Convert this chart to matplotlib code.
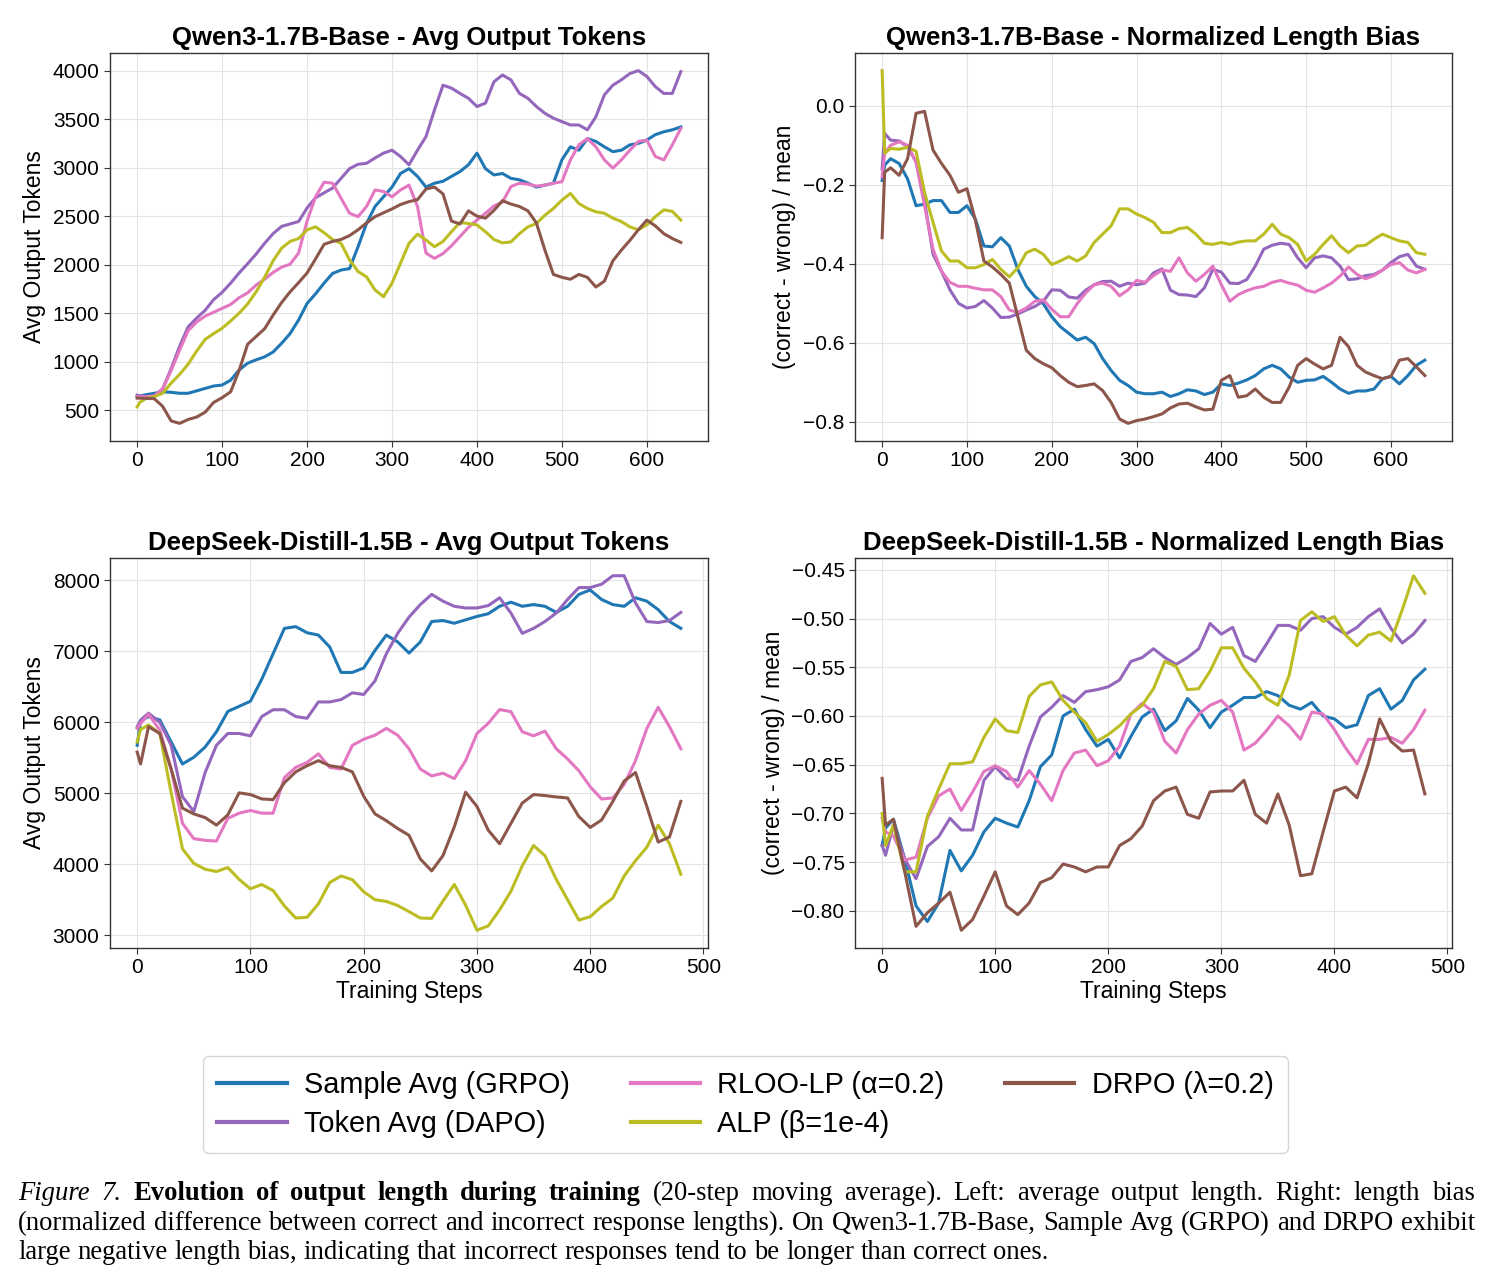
import matplotlib
matplotlib.use("Agg")
import matplotlib.pyplot as plt
from matplotlib.ticker import MultipleLocator, FuncFormatter

plt.rcParams['font.family'] = ['Liberation Sans', 'DejaVu Sans']
plt.rcParams['axes.unicode_minus'] = True

# ---------------- data ----------------
steps_qwen = [0, 3] + list(range(10, 641, 10))
steps_ds = [0, 3] + list(range(10, 481, 10))

series_names = ["Sample Avg (GRPO)", "Token Avg (DAPO)", "RLOO-LP (α=0.2)", "ALP (β=1e-4)", "DRPO (λ=0.2)"]
series_colors = ["#1f77b4", "#9467bd", "#e377c2", "#bcbd22", "#8c564b"]

# Qwen3-1.7B-Base, avg output tokens
qwen_tok_grpo = [640, 645, 660, 675, 690, 685, 675, 675, 700, 725, 750, 760, 810, 915, 985, 1020, 1050, 1100, 1190, 1290,
                 1430, 1600, 1700, 1810, 1910, 1945, 1960, 2185, 2425, 2600, 2700, 2800, 2940, 2990, 2910, 2800, 2840,
                 2860, 2910, 2960, 3030, 3150, 2990, 2925, 2940, 2890, 2875, 2840, 2800, 2820, 2840, 3080, 3215, 3180,
                 3300, 3270, 3215, 3165, 3180, 3235, 3250, 3285, 3340, 3370, 3390, 3420]
qwen_tok_dapo = [655, 650, 640, 650, 720, 930, 1160, 1360, 1450, 1530, 1640, 1715, 1810, 1915, 2010, 2110, 2220, 2320,
                 2395, 2420, 2445, 2585, 2690, 2740, 2790, 2890, 2990, 3035, 3045, 3100, 3150, 3180, 3115, 3030, 3180,
                 3320, 3595, 3850, 3820, 3765, 3715, 3630, 3665, 3885, 3955, 3905, 3765, 3715, 3630, 3560, 3510, 3475,
                 3440, 3440, 3390, 3525, 3750, 3850, 3905, 3970, 4000, 3940, 3835, 3765, 3765, 3990]
qwen_tok_rloo = [640, 640, 640, 645, 720, 910, 1120, 1320, 1410, 1470, 1510, 1550, 1590, 1660, 1710, 1790, 1850, 1920,
                 1975, 2005, 2120, 2450, 2700, 2850, 2840, 2685, 2530, 2495, 2600, 2770, 2755, 2700, 2770, 2820, 2600,
                 2120, 2065, 2115, 2195, 2290, 2385, 2460, 2530, 2605, 2645, 2805, 2840, 2830, 2810, 2820, 2840, 2855,
                 3080, 3235, 3300, 3215, 3080, 2995, 3080, 3180, 3270, 3285, 3115, 3080, 3235, 3405]
qwen_tok_alp = [535, 580, 620, 640, 675, 780, 870, 975, 1110, 1230, 1290, 1345, 1420, 1500, 1595, 1720, 1870, 2040, 2170,
                2240, 2270, 2360, 2390, 2330, 2260, 2220, 2050, 1930, 1875, 1740, 1670, 1810, 2015, 2220, 2315, 2255,
                2185, 2240, 2340, 2435, 2425, 2410, 2340, 2260, 2225, 2235, 2320, 2390, 2425, 2510, 2580, 2665, 2735,
                2630, 2580, 2545, 2530, 2480, 2445, 2390, 2360, 2410, 2495, 2565, 2550, 2460]
qwen_tok_drpo = [625, 625, 622, 620, 540, 390, 365, 405, 430, 480, 580, 630, 690, 910, 1180, 1260, 1340, 1480, 1610,
                 1720, 1815, 1915, 2060, 2210, 2240, 2260, 2300, 2360, 2430, 2495, 2535, 2575, 2620, 2650, 2670, 2780,
                 2800, 2730, 2450, 2420, 2555, 2500, 2480, 2560, 2660, 2625, 2600, 2555, 2430, 2150, 1900, 1870, 1850,
                 1900, 1870, 1770, 1830, 2040, 2150, 2250, 2360, 2460, 2400, 2320, 2270, 2230]

# Qwen3-1.7B-Base, normalized length bias
qwen_bias_grpo = [-0.189, -0.15, -0.134, -0.146, -0.185, -0.253, -0.249, -0.24, -0.24, -0.27, -0.27, -0.253, -0.287,
                  -0.355, -0.357, -0.334, -0.355, -0.414, -0.457, -0.483, -0.501, -0.534, -0.559, -0.576, -0.593,
                  -0.586, -0.602, -0.64, -0.67, -0.695, -0.708, -0.725, -0.729, -0.729, -0.725, -0.736, -0.729, -0.719,
                  -0.722, -0.731, -0.725, -0.704, -0.708, -0.702, -0.694, -0.683, -0.666, -0.657, -0.666, -0.687, -0.70,
                  -0.695, -0.694, -0.685, -0.70, -0.717, -0.728, -0.722, -0.722, -0.717, -0.691, -0.685, -0.704,
                  -0.683, -0.657, -0.644]
qwen_bias_dapo = [-0.16, -0.07, -0.087, -0.089, -0.104, -0.142, -0.24, -0.376, -0.419, -0.466, -0.50, -0.512, -0.508,
                  -0.493, -0.512, -0.536, -0.535, -0.527, -0.517, -0.508, -0.495, -0.466, -0.467, -0.484, -0.487,
                  -0.467, -0.453, -0.445, -0.444, -0.457, -0.449, -0.453, -0.449, -0.423, -0.413, -0.467, -0.478,
                  -0.479, -0.483, -0.461, -0.414, -0.421, -0.449, -0.45, -0.44, -0.406, -0.363, -0.353, -0.348, -0.351,
                  -0.385, -0.41, -0.385, -0.38, -0.385, -0.406, -0.44, -0.438, -0.43, -0.427, -0.416, -0.397, -0.382,
                  -0.376, -0.406, -0.414]
qwen_bias_rloo = [-0.18, -0.12, -0.10, -0.091, -0.10, -0.142, -0.253, -0.363, -0.419, -0.447, -0.457, -0.457, -0.462,
                  -0.466, -0.466, -0.483, -0.517, -0.523, -0.512, -0.495, -0.491, -0.515, -0.534, -0.534, -0.501,
                  -0.474, -0.453, -0.449, -0.457, -0.481, -0.466, -0.442, -0.447, -0.43, -0.416, -0.419, -0.385,
                  -0.423, -0.444, -0.427, -0.406, -0.453, -0.495, -0.478, -0.468, -0.461, -0.457, -0.447, -0.442,
                  -0.449, -0.454, -0.467, -0.472, -0.461, -0.449, -0.431, -0.408, -0.427, -0.438, -0.43, -0.416,
                  -0.402, -0.397, -0.416, -0.423, -0.414]
qwen_bias_alp = [0.089, -0.12, -0.108, -0.11, -0.105, -0.115, -0.219, -0.295, -0.368, -0.393, -0.393, -0.41, -0.41,
                 -0.402, -0.389, -0.414, -0.433, -0.41, -0.372, -0.363, -0.376, -0.402, -0.393, -0.382, -0.393, -0.38,
                 -0.346, -0.325, -0.304, -0.261, -0.261, -0.274, -0.283, -0.295, -0.321, -0.321, -0.311, -0.308,
                 -0.325, -0.348, -0.351, -0.346, -0.351, -0.345, -0.342, -0.342, -0.325, -0.30, -0.325, -0.334,
                 -0.351, -0.393, -0.376, -0.351, -0.329, -0.355, -0.372, -0.355, -0.353, -0.338, -0.325, -0.334,
                 -0.342, -0.346, -0.372, -0.376]
qwen_bias_drpo = [-0.334, -0.168, -0.157, -0.176, -0.134, -0.019, -0.014, -0.112, -0.146, -0.176, -0.219, -0.21, -0.29,
                  -0.393, -0.408, -0.427, -0.449, -0.534, -0.619, -0.64, -0.653, -0.663, -0.683, -0.70, -0.711,
                  -0.708, -0.704, -0.721, -0.751, -0.793, -0.804, -0.797, -0.793, -0.787, -0.78, -0.765, -0.755,
                  -0.753, -0.762, -0.77, -0.768, -0.695, -0.683, -0.738, -0.734, -0.717, -0.738, -0.751, -0.751,
                  -0.712, -0.657, -0.64, -0.654, -0.666, -0.657, -0.586, -0.61, -0.657, -0.674, -0.683, -0.691,
                  -0.685, -0.644, -0.64, -0.661, -0.683]

# DeepSeek-Distill-1.5B, avg output tokens
ds_tok_grpo = [5675, 6020, 6081, 6033, 5722, 5412, 5507, 5651, 5866, 6153, 6225, 6297, 6608, 6967, 7325, 7349, 7263,
               7230, 7062, 6703, 6703, 6766, 7014, 7230, 7134, 6976, 7134, 7421, 7435, 7397, 7445, 7493, 7531, 7636,
               7694, 7636, 7660, 7636, 7550, 7636, 7804, 7866, 7732, 7660, 7636, 7756, 7708, 7589, 7421, 7325]
ds_tok_dapo = [5938, 6030, 6129, 6000, 5675, 4950, 4742, 5292, 5675, 5842, 5842, 5809, 6081, 6177, 6177, 6081, 6057,
               6287, 6287, 6320, 6416, 6392, 6584, 6967, 7254, 7483, 7660, 7804, 7708, 7636, 7612, 7612, 7646, 7756,
               7541, 7254, 7325, 7421, 7541, 7732, 7900, 7900, 7947, 8067, 8067, 7684, 7421, 7407, 7435, 7550]
ds_tok_rloo = [5914, 5980, 6115, 5890, 5340, 4574, 4359, 4335, 4325, 4646, 4718, 4756, 4718, 4718, 5220, 5364, 5435,
               5555, 5364, 5340, 5675, 5761, 5818, 5914, 5818, 5627, 5340, 5244, 5282, 5206, 5459, 5842, 5986, 6180,
               6150, 5866, 5809, 5876, 5627, 5483, 5316, 5091, 4919, 4933, 5124, 5459, 5914, 6211, 5938, 5627]
ds_tok_alp = [5722, 5900, 5962, 5842, 5005, 4215, 4010, 3928, 3895, 3952, 3785, 3651, 3713, 3627, 3410, 3240, 3250,
              3440, 3740, 3833, 3780, 3610, 3498, 3474, 3416, 3330, 3240, 3234, 3480, 3713, 3420, 3067, 3129, 3354,
              3617, 3976, 4263, 4119, 3785, 3498, 3211, 3258, 3402, 3522, 3833, 4048, 4239, 4550, 4287, 3857]
ds_tok_drpo = [5579, 5412, 5938, 5842, 5340, 4790, 4708, 4656, 4550, 4694, 5005, 4981, 4919, 4909, 5148, 5301, 5388,
               5459, 5388, 5364, 5301, 4957, 4708, 4612, 4502, 4407, 4072, 3904, 4120, 4526, 5014, 4813, 4478, 4287,
               4574, 4861, 4981, 4967, 4947, 4933, 4670, 4517, 4622, 4885, 5172, 5292, 4813, 4311, 4383, 4885]

# DeepSeek-Distill-1.5B, normalized length bias
ds_bias_grpo = [-0.733, -0.715, -0.706, -0.747, -0.795, -0.811, -0.792, -0.738, -0.759, -0.743, -0.719, -0.705,
                -0.71, -0.714, -0.687, -0.652, -0.64, -0.60, -0.593, -0.614, -0.631, -0.624, -0.643, -0.621, -0.601,
                -0.593, -0.615, -0.605, -0.582, -0.594, -0.612, -0.596, -0.589, -0.581, -0.581, -0.575, -0.579,
                -0.589, -0.593, -0.586, -0.60, -0.603, -0.612, -0.609, -0.579, -0.572, -0.593, -0.584, -0.563, -0.552]
ds_bias_dapo = [-0.733, -0.743, -0.712, -0.747, -0.767, -0.734, -0.724, -0.705, -0.717, -0.717, -0.666, -0.652,
                -0.664, -0.666, -0.631, -0.601, -0.591, -0.579, -0.586, -0.575, -0.573, -0.57, -0.563, -0.544, -0.54,
                -0.531, -0.54, -0.547, -0.54, -0.531, -0.505, -0.516, -0.509, -0.538, -0.544, -0.526, -0.507, -0.507,
                -0.512, -0.50, -0.498, -0.509, -0.516, -0.509, -0.498, -0.49, -0.51, -0.525, -0.516, -0.502]
ds_bias_rloo = [-0.705, -0.719, -0.723, -0.748, -0.745, -0.705, -0.682, -0.675, -0.697, -0.678, -0.657, -0.651,
                -0.657, -0.673, -0.656, -0.67, -0.687, -0.656, -0.638, -0.635, -0.651, -0.646, -0.631, -0.598, -0.587,
                -0.596, -0.626, -0.638, -0.614, -0.598, -0.589, -0.584, -0.596, -0.635, -0.628, -0.615, -0.60, -0.61,
                -0.624, -0.596, -0.598, -0.614, -0.633, -0.649, -0.624, -0.624, -0.622, -0.628, -0.614, -0.594]
ds_bias_alp = [-0.70, -0.733, -0.712, -0.76, -0.76, -0.703, -0.675, -0.649, -0.649, -0.647, -0.622, -0.603, -0.615,
               -0.617, -0.58, -0.568, -0.565, -0.584, -0.596, -0.607, -0.626, -0.619, -0.61, -0.598, -0.589, -0.572,
               -0.544, -0.549, -0.573, -0.572, -0.554, -0.53, -0.53, -0.551, -0.565, -0.582, -0.589, -0.558, -0.502,
               -0.493, -0.503, -0.498, -0.517, -0.528, -0.517, -0.514, -0.523, -0.491, -0.456, -0.474]
ds_bias_drpo = [-0.664, -0.712, -0.706, -0.76, -0.816, -0.802, -0.792, -0.781, -0.82, -0.809, -0.785, -0.76, -0.795,
                -0.804, -0.792, -0.771, -0.766, -0.752, -0.755, -0.76, -0.755, -0.755, -0.733, -0.726, -0.713, -0.687,
                -0.677, -0.673, -0.701, -0.705, -0.678, -0.677, -0.677, -0.666, -0.701, -0.71, -0.68, -0.712, -0.764,
                -0.762, -0.719, -0.677, -0.673, -0.684, -0.649, -0.603, -0.626, -0.636, -0.635, -0.68]

panel_titles = ["Qwen3-1.7B-Base - Avg Output Tokens", "Qwen3-1.7B-Base - Normalized Length Bias",
                "DeepSeek-Distill-1.5B - Avg Output Tokens", "DeepSeek-Distill-1.5B - Normalized Length Bias"]

# ---------------- figure ----------------
W, H = 1491, 1283
fig = plt.figure(figsize=(W / 100, H / 100), dpi=100)


def ax_at(l, t, r, b):
    return fig.add_axes([l / W, 1 - b / H, (r - l) / W, (b - t) / H])


axes = [ax_at(110, 53, 708, 441), ax_at(855, 53, 1452, 441),
        ax_at(110, 558, 708, 948), ax_at(855, 558, 1452, 948)]

panels = [
    (steps_qwen, [qwen_tok_grpo, qwen_tok_dapo, qwen_tok_rloo, qwen_tok_alp, qwen_tok_drpo], 500, "Avg Output Tokens"),
    (steps_qwen, [qwen_bias_grpo, qwen_bias_dapo, qwen_bias_rloo, qwen_bias_alp, qwen_bias_drpo], 0.2,
     "(correct - wrong) / mean"),
    (steps_ds, [ds_tok_grpo, ds_tok_dapo, ds_tok_rloo, ds_tok_alp, ds_tok_drpo], 1000, "Avg Output Tokens"),
    (steps_ds, [ds_bias_grpo, ds_bias_dapo, ds_bias_rloo, ds_bias_alp, ds_bias_drpo], 0.05,
     "(correct - wrong) / mean"),
]

handles = []
for i, (ax, (xs, ys_list, ystep, ylab)) in enumerate(zip(axes, panels)):
    for name, col, ys in zip(series_names, series_colors, ys_list):
        ln, = ax.plot(xs, ys, color=col, lw=2.2, label=name, solid_joinstyle='round')
        if i == 0:
            handles.append(ln)
    ax.set_title(panel_titles[i], fontsize=18.5, fontweight='bold', pad=6)
    ax.set_ylabel(ylab, fontsize=16.5, labelpad=5)
    if i >= 2:
        ax.set_xlabel("Training Steps", fontsize=16.5, labelpad=2)
    ax.xaxis.set_major_locator(MultipleLocator(100))
    ax.yaxis.set_major_locator(MultipleLocator(ystep))
    ax.tick_params(labelsize=15, color='#333333', length=4)
    ax.grid(True, color='#e3e3e3', lw=0.8)
    ax.set_axisbelow(True)
    for sp in ax.spines.values():
        sp.set_color('#333333')
        sp.set_linewidth(1.0)

axes[3].yaxis.set_major_formatter(FuncFormatter(lambda v, p: f"{v:.2f}".replace('-', '\u2212')))
axes[1].yaxis.set_major_formatter(FuncFormatter(lambda v, p: f"{v:.1f}".replace('-', '\u2212')))

leg = fig.legend(handles, series_names, loc='upper center', bbox_to_anchor=(0.5, 1 - 1042 / H), ncol=3,
                 fontsize=20.8, handlelength=2.4, handletextpad=0.6, columnspacing=2.1, labelspacing=0.4,
                 frameon=True, fancybox=True, borderpad=0.5)
leg.get_frame().set_edgecolor('#cccccc')
leg.get_frame().set_linewidth(1.0)
for lh in leg.get_lines():
    lh.set_linewidth(3)

# ---------------- caption ----------------
cap_fs = 19.2
R = dict(family='Liberation Serif', fontsize=cap_fs)
I = dict(family='Liberation Serif', fontsize=cap_fs, style='italic')
B = dict(family='Liberation Serif', fontsize=cap_fs, weight='bold')

line1 = [("Figure", I), ("7.", I), ("Evolution", B), ("of", B), ("output", B), ("length", B), ("during", B),
         ("training", B)] + [(w, R) for w in "(20-step moving average). Left: average output length. Right: length bias".split()]
line2 = [(w, R) for w in ("(normalized difference between correct and incorrect response lengths). On Qwen3-1.7B-Base, "
                          "Sample Avg (GRPO) and DRPO exhibit").split()]
line3 = [(w, R) for w in "large negative length bias, indicating that incorrect responses tend to be longer than correct ones.".split()]

renderer = fig.canvas.get_renderer()


def draw_line(words, ybase, x0, x1, justify):
    texts = [fig.text(0, 1 - ybase / H, w, va='baseline', ha='left', **st) for w, st in words]
    widths = [t.get_window_extent(renderer).width for t in texts]
    if justify:
        gap = (x1 - x0 - sum(widths)) / (len(words) - 1)
    else:
        gap = cap_fs * 100 / 72 * 0.25
    x = x0
    for t, w in zip(texts, widths):
        t.set_x(x / W)
        x += w + gap


draw_line(line1, 1200, 18, 1475, True)
draw_line(line2, 1230, 18, 1475, True)
draw_line(line3, 1259, 18, 1475, False)

fig.savefig("out.png", dpi=100)
